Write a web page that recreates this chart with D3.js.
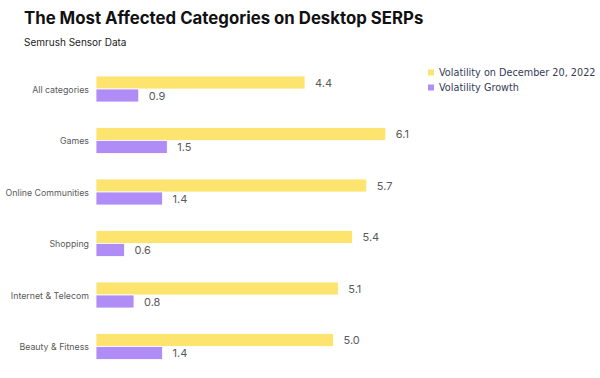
<!DOCTYPE html>
<html><head><meta charset="utf-8">
<script src="https://cdn.jsdelivr.net/npm/d3@7"></script>
<style>body{margin:0;background:#fff}svg{display:block}</style>
</head><body><svg id="c" width="600" height="378"></svg>
<script>
const categories = ["All categories","Games","Online Communities","Shopping","Internet & Telecom","Beauty & Fitness"];
const volatility = [4.4, 6.1, 5.7, 5.4, 5.1, 5.0];
const growth = [0.9, 1.5, 1.4, 0.6, 0.8, 1.4];
const seriesNames = ["Volatility on December 20, 2022","Volatility Growth"];
const colors = ["#fce46e","#b08cf7"];

const svg = d3.select("#c");
svg.append("text").attr("x",24).attr("y",24).text("The Most Affected Categories on Desktop SERPs")
  .attr("font-family","Inter, 'Open Sans', sans-serif").attr("font-weight",700).attr("font-size",16.8).attr("fill","#111");
svg.append("text").attr("x",24).attr("y",46).text("Semrush Sensor Data")
  .attr("font-family","Inter, sans-serif").attr("font-size",10).attr("fill","#222");

const x = d3.scaleLinear().domain([0,7]).range([96, 96+7*47.5]);
const y = d3.scalePoint().domain(categories).range([89, 346.5]);
const sub = d3.scaleBand().domain([0,1]).range([-13,13]).paddingInner(0);

const data = categories.map((c,i)=>({c, vals:[volatility[i], growth[i]]}));
const g = svg.append("g");
const grp = g.selectAll("g.cat").data(data).join("g").attr("transform",d=>`translate(0,${y(d.c)})`);
grp.append("text").attr("x",89).attr("y",3.5).attr("text-anchor","end").text(d=>d.c)
  .attr("font-family","Inter, sans-serif").attr("font-size",8.8).attr("fill","#5a5a5a");
grp.selectAll("rect").data(d=>d.vals.map((v,k)=>({v,k}))).join("rect")
  .attr("x",x(0)).attr("y",d=>sub(d.k)).attr("width",d=>x(d.v)-x(0)).attr("height",sub.bandwidth())
  .attr("fill",d=>colors[d.k]).attr("stroke","#fff").attr("stroke-width",0.8);
grp.selectAll("text.v").data(d=>d.vals.map((v,k)=>({v,k}))).join("text").attr("class","v")
  .attr("x",d=>x(d.v)+10).attr("y",d=>sub(d.k)+sub.bandwidth()/2+4)
  .text(d=>d.v.toFixed(1)).attr("font-family","Inter, sans-serif").attr("font-size",11).attr("fill","#5a5a5a");

const lg = svg.append("g").selectAll("g").data(seriesNames).join("g")
  .attr("transform",(d,i)=>`translate(428,${76+i*15})`);
lg.append("rect").attr("x",0).attr("y",-6.5).attr("width",6).attr("height",6).attr("fill",(d,i)=>colors[i]);
lg.append("text").attr("x",11).attr("y",0).text(d=>d)
  .attr("font-family","'DejaVu Sans', sans-serif").attr("font-size",9.7).attr("fill","#353b55");
</script></body></html>
